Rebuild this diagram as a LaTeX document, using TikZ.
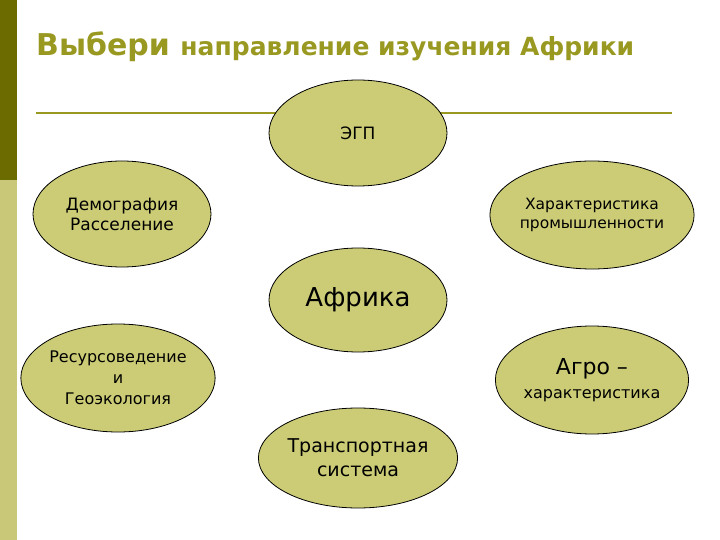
\documentclass[tikz,border=0pt]{standalone}
\usepackage{fontspec}
\setmainfont{DejaVu Sans}
\usetikzlibrary{shapes.geometric,backgrounds}
\definecolor{dark}{HTML}{6B6B00}
\definecolor{lite}{HTML}{C8C878}
\definecolor{title}{HTML}{999922}
\definecolor{ell}{HTML}{CCCC77}
\begin{document}
\begin{tikzpicture}[x=1pt,y=-1pt,
  bub/.style={ellipse,draw=black,line width=0.8pt,fill=ell,align=center,font=\fontsize{17}{20}\selectfont,inner sep=0pt},
  con/.style={line width=2pt,draw=black!85}]
\useasboundingbox (0,0) rectangle (720,540);
\fill[white] (0,0) rectangle (720,540);
\fill[dark] (0,0) rectangle (17,180);
\fill[lite] (0,180) rectangle (17,540);
\node[anchor=west,text=title,font=\fontsize{30}{34}\selectfont\bfseries,inner sep=0pt] (t) at (36,47) {Выбери \fontsize{25}{30}\selectfont направление изучения Африки};
\draw[title,line width=1.2pt] (36,113) -- (672,113);
\node[bub,minimum width=178pt,minimum height=106pt] (e) at (358,133) {ЭГП};
\node[bub,minimum width=178pt,minimum height=106pt] (d) at (122,214) {Демография\\Расселение};
\node[bub,minimum width=176pt,minimum height=108pt,font=\fontsize{15.5}{19}\selectfont] (h) at (592,215) {Характеристика\\промышленности};
\node[bub,minimum width=178pt,minimum height=104pt,font=\fontsize{26}{30}\selectfont] (a) at (358,300) {Африка};
\node[bub,minimum width=172pt,minimum height=108pt,font=\fontsize{16}{21}\selectfont] (r) at (118,378) {Ресурсоведение\\и\\Геоэкология};
\node[bub,minimum width=178pt,minimum height=108pt,font=\fontsize{16}{24}\selectfont] (g) at (592,380) {{\fontsize{22}{24}\selectfont Агро –}\\характеристика};
\node[bub,minimum width=176pt,minimum height=100pt,font=\fontsize{19}{24}\selectfont] (tr) at (358,458) {Транспортная\\система};
\begin{scope}[on background layer]
\foreach \n in {e,d,h,r,g,tr} \draw[con] (a.center) -- (\n.center);
\end{scope}
\end{tikzpicture}
\end{document}
